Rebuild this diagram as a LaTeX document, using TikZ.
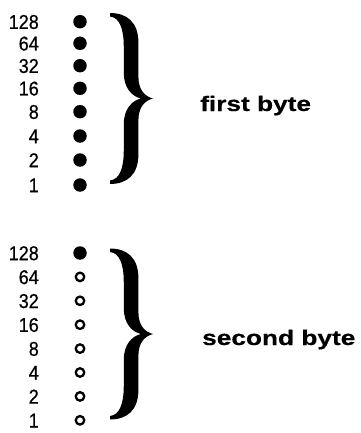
\documentclass[tikz,border=0pt]{standalone}
\usepackage{fontspec}
\setmainfont{Liberation Sans}
\newfontfamily\numfont[FakeStretch=0.9,FakeBold=0.6]{Liberation Sans}
\newfontfamily\labfont[FakeStretch=1.25,FakeBold=0.4]{Liberation Sans Bold}
\begin{document}
\begin{tikzpicture}[x=1pt,y=-1pt,
  numlabel/.style={font=\numfont\fontsize{20}{20}\selectfont, anchor=base east, inner sep=0pt},
  bitset/.style={circle, fill=black, minimum size=13.5pt, inner sep=0pt},
  bitclear/.style={circle, draw=black, line width=2.3pt, fill=white, minimum size=8.5pt, inner sep=0pt},
  bytelabel/.style={font=\labfont\fontsize{21}{21}\selectfont, anchor=base west, inner sep=0pt},
  bracefill/.style={fill=black}]
\useasboundingbox (0,0) rectangle (360,433);

% serif curly brace: ends at (0,-h) and (0,h), point at (w,0)
\newcommand{\serifbrace}[3]{% #1 = origin, #2 = half height, #3 = reach
  \begin{scope}[shift={#1}]
    \pgfmathsetmacro{\hh}{#2}
    \pgfmathsetmacro{\ww}{#3}
    \fill[bracefill]
      (0,-\hh-1.5)
      .. controls (0.40*\ww,-\hh-1.5) and (0.66*\ww,-\hh+8) .. (0.66*\ww,-\hh+28)
      -- (0.66*\ww,-22)
      .. controls (0.66*\ww,-8) and (0.82*\ww,-2) .. (\ww,0)
      .. controls (0.82*\ww,2) and (0.66*\ww,8) .. (0.66*\ww,22)
      -- (0.66*\ww,\hh-28)
      .. controls (0.66*\ww,\hh-8) and (0.40*\ww,\hh+1.5) .. (0,\hh+1.5)
      -- (0,\hh-2)
      .. controls (0.22*\ww,\hh-3) and (0.32*\ww,\hh-14) .. (0.32*\ww,\hh-32)
      -- (0.32*\ww,26)
      .. controls (0.32*\ww,10) and (0.52*\ww,2) .. (0.72*\ww,0)
      .. controls (0.52*\ww,-2) and (0.32*\ww,-10) .. (0.32*\ww,-26)
      -- (0.32*\ww,-\hh+32)
      .. controls (0.32*\ww,-\hh+14) and (0.22*\ww,-\hh+3) .. (0,-\hh+2)
      -- cycle;
  \end{scope}}

% first byte: all eight bits set
\foreach \v/\yy in {128/21.7,64/43.3,32/65.7,16/88.3,8/111.7,4/136,2/160,1/185} {
  \node[numlabel] (a\v) at (39,\yy+7.2) {\v};
  \node[bitset] (p\v) at (80,\yy) {};
}
\serifbrace{(110,98.5)}{84}{43}
\node[bytelabel] (first) at (200,111) {first byte};

% second byte: only the top bit set
\foreach \v [count=\k from 0] in {128,64,32,16,8,4,2,1} {
  \pgfmathsetmacro{\yy}{253+23.9*\k}
  \node[numlabel] (b\v) at (39,\yy+7.2) {\v};
}
\node[bitset] (q128) at (80,253) {};
\foreach \v [count=\k from 1] in {64,32,16,8,4,2,1} {
  \pgfmathsetmacro{\yy}{253+23.9*\k}
  \node[bitclear] (q\v) at (80,\yy) {};
}
\serifbrace{(110,334)}{84}{43}
\node[bytelabel] (second) at (202,345) {second byte};
\end{tikzpicture}
\end{document}
